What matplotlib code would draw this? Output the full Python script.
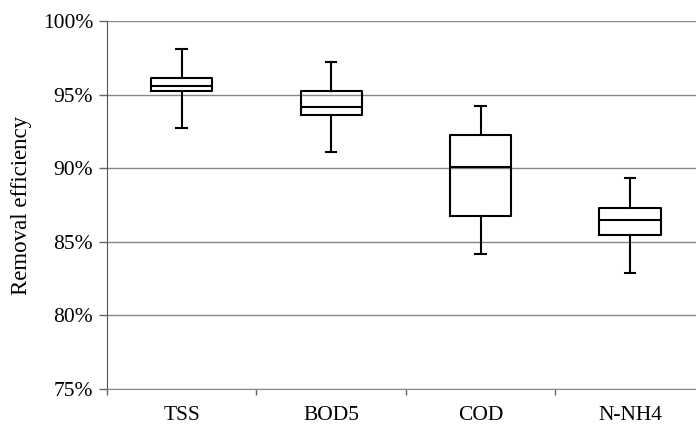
import matplotlib
matplotlib.use("Agg")
import matplotlib.pyplot as plt
from matplotlib.ticker import FuncFormatter, FixedLocator

categories = ["TSS", "BOD5", "COD", "N-NH4"]
whisker_low = [92.7, 91.1, 84.2, 82.9]
q1 = [95.25, 93.6, 86.75, 85.45]
median = [95.55, 94.15, 90.05, 86.5]
q3 = [96.15, 95.25, 92.25, 87.3]
whisker_high = [98.1, 97.2, 94.25, 89.3]

plt.rcParams['font.family'] = ['Liberation Serif', 'DejaVu Serif']

fig = plt.figure(figsize=(6.96, 4.25), dpi=100)
ax = fig.add_axes([0.1537, 0.0847, 0.859, 0.866])

stats = []
for i, name in enumerate(categories):
    stats.append(dict(label=name, whislo=whisker_low[i], q1=q1[i], med=median[i],
                      q3=q3[i], whishi=whisker_high[i], fliers=[]))

positions = list(range(1, len(categories) + 1))
ax.bxp(stats, positions=positions, widths=0.41, showfliers=False,
       boxprops=dict(color='black', linewidth=1.5),
       medianprops=dict(color='black', linewidth=1.5),
       whiskerprops=dict(color='black', linewidth=1.5),
       capprops=dict(color='black', linewidth=1.5),
       capwidths=0.07, zorder=3)

ax.set_ylim(75, 100)
ax.set_xlim(0.5, len(categories) + 0.5)
ax.set_yticks([75, 80, 85, 90, 95, 100])
ax.yaxis.set_major_formatter(FuncFormatter(lambda v, p: f"{v:.0f}%"))
ax.yaxis.grid(True, color='#888888', linewidth=1.0)
ax.set_axisbelow(True)

ax.set_xticks(positions)
ax.set_xticklabels(categories, fontsize=15.5)
ax.tick_params(axis='x', which='major', length=0, pad=12)
ax.xaxis.set_minor_locator(FixedLocator([p + 0.5 for p in [0] + positions]))
ax.tick_params(axis='x', which='minor', length=4, width=1, color='#666666', direction='out')
ax.tick_params(axis='y', labelsize=15.5, length=6, width=1, color='#666666', pad=4)

for s in ['top', 'right']:
    ax.spines[s].set_visible(False)
ax.spines['left'].set_color('#555555')
ax.spines['bottom'].set_color('#888888')

ax.set_ylabel("Removal efficiency", fontsize=16.5, labelpad=8)

fig.savefig("out.png", dpi=100)
